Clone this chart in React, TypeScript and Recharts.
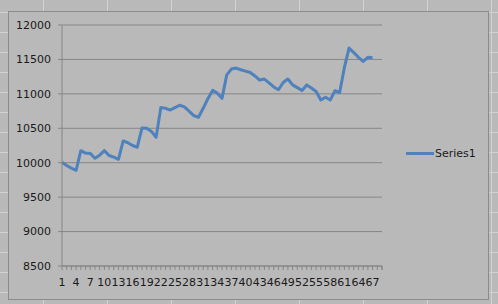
import { LineChart, Line, XAxis, YAxis, CartesianGrid } from "recharts";

// categories 1..69, the last two rows are empty in the sheet
const categories = Array.from({ length: 69 }, (_, i) => String(i + 1));

const series1: (number | null)[] = [
  10005, 9960, 9920, 9890, 10175, 10140, 10135, 10065, 10110, 10175,
  10105, 10080, 10050, 10316, 10290, 10250, 10225, 10505, 10500, 10455,
  10370, 10800, 10790, 10765, 10800, 10835, 10810, 10750, 10685, 10660,
  10790, 10930, 11050, 11010, 10935, 11275, 11360, 11375, 11350, 11330,
  11310, 11260, 11200, 11215, 11160, 11100, 11060, 11165, 11215, 11130,
  11090, 11050, 11130, 11085, 11035, 10910, 10950, 10910, 11045, 11020,
  11380, 11665, 11600, 11530, 11470, 11530, 11525, null, null,
];

const yTicks = [8500, 9000, 9500, 10000, 10500, 11000, 11500, 12000];

const data = categories.map((c, i) => ({ name: c, Series1: series1[i] }));

const AXIS = "#868686";
const BLUE = "#4F81BD";
const FONT = "'DejaVu Sans', sans-serif";

// Excel-style ticks: marks between categories, label on every 3rd
function XTick(props: any) {
  const { x, y, payload } = props;
  const half = payload.offset ?? 0;
  const idx = payload.index ?? props.index;
  return (
    <g>
      <line x1={x - half} x2={x - half} y1={y} y2={y + 4} stroke={AXIS} />
      {idx === categories.length - 1 && (
        <line x1={x + half} x2={x + half} y1={y} y2={y + 4} stroke={AXIS} />
      )}
      {idx % 3 === 0 && (
        <text x={x} y={y + 20} textAnchor="middle" fontSize={11} fontFamily={FONT} fill="#1a1a1a">
          {payload.value}
        </text>
      )}
    </g>
  );
}

export default function App() {
  return (
    <div
      style={{
        position: "fixed",
        left: 0,
        top: 0,
        width: 498,
        height: 304,
        background: "#b9b9b9",
        backgroundImage:
          "linear-gradient(to right, #d2d2d2 1px, transparent 1px), linear-gradient(to bottom, #d2d2d2 1px, transparent 1px)",
        backgroundSize: "64px 100%, 100% 20px",
        backgroundPosition: "43px 0, 0 12px",
        overflow: "hidden",
      }}
    >
      <div
        style={{
          position: "absolute",
          left: 8,
          top: 11,
          width: 479,
          height: 287,
          border: "1px solid #8c8c8c",
          background: "#b9b9b9",
        }}
      />
      <div style={{ position: "absolute", left: 0, top: 0 }}>
        <LineChart width={498} height={304} data={data} margin={{ top: 25, right: 116, bottom: 0, left: 0 }}>
          <CartesianGrid vertical={false} stroke={AXIS} strokeDasharray="" />
          <XAxis
            dataKey="name"
            interval={0}
            height={38}
            stroke={AXIS}
            tickLine={false}
            tickSize={0}
            tickMargin={0}
            tick={<XTick />}
          />
          <YAxis
            type="number"
            domain={[8500, 12000]}
            ticks={yTicks}
            width={62}
            stroke={AXIS}
            tickSize={4}
            tickMargin={7}
            tick={{ fontSize: 11, fontFamily: FONT, fill: "#1a1a1a" }}
          />
          <Line
            type="linear"
            dataKey="Series1"
            stroke={BLUE}
            strokeWidth={3}
            dot={false}
            isAnimationActive={false}
            strokeLinejoin="round"
          />
        </LineChart>
      </div>
      {/* legend, placed like Excel's right-side legend */}
      <div
        style={{
          position: "absolute",
          left: 406,
          top: 147,
          display: "flex",
          alignItems: "center",
          fontFamily: FONT,
          fontSize: 11,
          color: "#1a1a1a",
        }}
      >
        <div style={{ width: 28, height: 3, background: BLUE, marginRight: 1 }} />
        <span>Series1</span>
      </div>
    </div>
  );
}
